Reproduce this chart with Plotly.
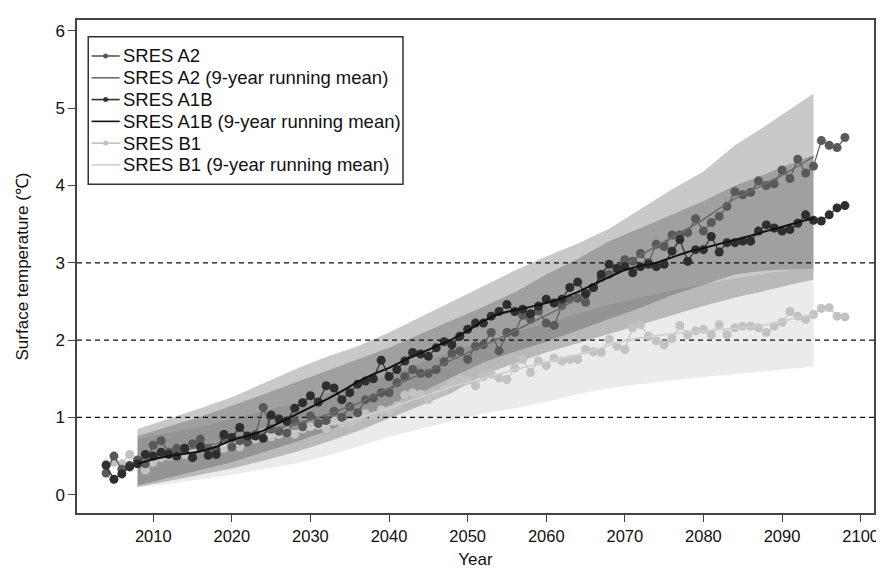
import plotly.graph_objects as go

# ---------------- data ----------------
years = list(range(2004, 2099))

a2 = [0.28, 0.50, 0.33, 0.38, 0.45, 0.40, 0.64, 0.70, 0.55, 0.60,
      0.58, 0.66, 0.72, 0.60, 0.58, 0.75, 0.62, 0.70, 0.68, 0.78,
      1.13, 0.85, 0.82, 0.80, 0.95, 0.88, 1.02, 0.92, 0.96, 1.08,
      1.00, 1.14, 1.06, 1.23, 1.25, 1.32, 1.32, 1.45, 1.53, 1.62,
      1.57, 1.57, 1.62, 1.72, 1.83, 1.86, 1.75, 1.92, 1.94, 2.10,
      1.86, 2.10, 2.10, 2.32, 2.27, 2.38, 2.22, 2.19, 2.45, 2.53,
      2.54, 2.49, 2.68, 2.81, 2.85, 2.91, 3.04, 3.02, 3.12, 3.00,
      3.24, 3.21, 3.36, 3.36, 3.39, 3.57, 3.41, 3.52, 3.60, 3.73,
      3.92, 3.88, 3.91, 4.06, 4.00, 4.02, 4.20, 4.09, 4.34, 4.16,
      4.25, 4.58, 4.52, 4.49, 4.62]

a1b = [0.38, 0.20, 0.27, 0.36, 0.40, 0.52, 0.50, 0.55, 0.52, 0.50,
       0.60, 0.48, 0.62, 0.51, 0.52, 0.78, 0.74, 0.87, 0.76, 0.76,
       0.73, 1.03, 0.98, 0.95, 1.12, 1.19, 1.28, 1.20, 1.41, 1.38,
       1.23, 1.32, 1.43, 1.47, 1.50, 1.74, 1.53, 1.62, 1.73, 1.84,
       1.82, 1.79, 1.90, 1.98, 1.94, 2.05, 2.14, 2.22, 2.22, 2.31,
       2.37, 2.46, 2.37, 2.40, 2.34, 2.44, 2.53, 2.48, 2.53, 2.68,
       2.75, 2.60, 2.68, 2.85, 2.98, 2.93, 2.95, 2.87, 2.95, 2.98,
       2.95, 2.98, 3.15, 3.30, 3.02, 3.17, 3.17, 3.34, 3.14, 3.26,
       3.26, 3.28, 3.28, 3.41, 3.49, 3.45, 3.41, 3.43, 3.51, 3.62,
       3.55, 3.54, 3.62, 3.71, 3.74]

b1 = [0.40, 0.42, 0.40, 0.52, 0.40, 0.32, 0.42, 0.48, 0.50, 0.55,
      0.52, 0.58, 0.60, 0.55, 0.62, 0.60, 0.66, 0.62, 0.70, 0.72,
      0.80, 0.75, 0.78, 0.82, 0.78, 0.85, 0.88, 0.90, 0.86, 0.95,
      0.92, 0.93, 0.98, 1.05, 1.02, 1.10, 1.08, 1.15, 1.29, 1.32,
      1.30, 1.23, 1.30, 1.36, 1.45, 1.49, 1.48, 1.41, 1.53, 1.56,
      1.51, 1.49, 1.64, 1.75, 1.58, 1.73, 1.67, 1.77, 1.73, 1.75,
      1.75, 1.88, 1.85, 1.84, 2.01, 1.92, 1.88, 2.16, 2.20, 2.05,
      1.99, 1.94, 2.02, 2.19, 2.07, 2.12, 2.14, 2.07, 2.20, 2.07,
      2.16, 2.18, 2.18, 2.16, 2.10, 2.18, 2.23, 2.37, 2.31, 2.27,
      2.33, 2.41, 2.42, 2.31, 2.30]

mean_years = list(range(2008, 2095, 2))
a2_mean = [0.42, 0.48, 0.53, 0.58, 0.62, 0.66, 0.70, 0.75, 0.80, 0.86,
           0.91, 0.97, 1.03, 1.10, 1.18, 1.28, 1.38, 1.47, 1.56, 1.65,
           1.74, 1.83, 1.93, 2.02, 2.12, 2.22, 2.31, 2.42, 2.55, 2.70,
           2.84, 2.98, 3.10, 3.22, 3.33, 3.44, 3.56, 3.70, 3.83, 3.93,
           4.03, 4.13, 4.25, 4.37]
a1b_mean = [0.40, 0.46, 0.50, 0.53, 0.56, 0.62, 0.71, 0.76, 0.83, 0.93,
            1.03, 1.12, 1.23, 1.34, 1.46, 1.56, 1.64, 1.74, 1.83, 1.93,
            2.01, 2.12, 2.25, 2.34, 2.39, 2.43, 2.48, 2.54, 2.62, 2.72,
            2.82, 2.91, 2.96, 3.00, 3.07, 3.14, 3.19, 3.24, 3.29, 3.35,
            3.41, 3.47, 3.53, 3.58]
b1_mean = [0.42, 0.46, 0.50, 0.54, 0.58, 0.61, 0.65, 0.70, 0.74, 0.78,
           0.82, 0.86, 0.90, 0.94, 0.99, 1.05, 1.12, 1.19, 1.26, 1.33,
           1.40, 1.45, 1.50, 1.56, 1.62, 1.67, 1.71, 1.76, 1.81, 1.87,
           1.93, 1.99, 2.03, 2.06, 2.08, 2.10, 2.12, 2.14, 2.15, 2.17,
           2.20, 2.24, 2.29, 2.33]

band_years = [2008, 2012, 2016, 2020, 2024, 2028, 2032, 2036, 2040, 2044,
              2048, 2052, 2056, 2060, 2064, 2068, 2072, 2076, 2080, 2084,
              2088, 2092, 2094]
a2_upper = [0.85, 0.98, 1.12, 1.26, 1.44, 1.62, 1.78, 1.92, 2.10, 2.30,
            2.50, 2.70, 2.90, 3.08, 3.25, 3.44, 3.70, 3.95, 4.18, 4.52,
            4.78, 5.05, 5.19]
a2_lower = [0.10, 0.18, 0.26, 0.34, 0.44, 0.55, 0.68, 0.82, 0.98, 1.15,
            1.32, 1.55, 1.70, 1.84, 1.96, 2.08, 2.20, 2.32, 2.44, 2.55,
            2.64, 2.74, 2.78]
a1b_upper = [0.76, 0.88, 1.01, 1.15, 1.30, 1.45, 1.60, 1.75, 1.90, 2.08,
             2.25, 2.43, 2.62, 2.85, 3.05, 3.28, 3.45, 3.62, 3.80, 4.00,
             4.15, 4.32, 4.39]
a1b_lower = [0.12, 0.22, 0.32, 0.42, 0.55, 0.68, 0.82, 0.98, 1.15, 1.32,
             1.52, 1.71, 1.85, 1.98, 2.12, 2.27, 2.42, 2.58, 2.72, 2.85,
             2.90, 2.92, 2.93]
b1_upper = [0.72, 0.80, 0.88, 0.98, 1.08, 1.18, 1.30, 1.42, 1.55, 1.70,
            1.85, 1.98, 2.10, 2.22, 2.35, 2.46, 2.55, 2.64, 2.72, 2.80,
            2.86, 2.92, 2.95]
b1_lower = [0.10, 0.14, 0.20, 0.26, 0.33, 0.40, 0.50, 0.62, 0.75, 0.85,
            0.95, 1.05, 1.12, 1.20, 1.30, 1.38, 1.43, 1.48, 1.52, 1.56,
            1.60, 1.64, 1.66]

ref_lines = [1, 2, 3]
x_ticks = [2010, 2020, 2030, 2040, 2050, 2060, 2070, 2080, 2090, 2100]
y_ticks = [0, 1, 2, 3, 4, 5, 6]

legend_labels = ["SRES A2", "SRES A2 (9-year running mean)",
                 "SRES A1B", "SRES A1B (9-year running mean)",
                 "SRES B1", "SRES B1 (9-year running mean)"]

# ---------------- styles ----------------
FONT = "Liberation Sans, Arial, Helvetica, sans-serif"
C_A2, C_A2M = "#595959", "#6a6a6a"
C_A1B, C_A1BM = "#2e2e2e", "#111111"
C_B1, C_B1M = "#c2c2c2", "#cfcfcf"
legend_colors = [C_A2, C_A2M, C_A1B, C_A1BM, C_B1, C_B1M]
legend_marker = [True, False, True, False, True, False]

fig = go.Figure()


def band(up, lo, color):
    fig.add_trace(go.Scatter(
        x=band_years + band_years[::-1], y=up + lo[::-1],
        fill="toself", fillcolor=color, mode="lines",
        line=dict(width=0), hoverinfo="skip", showlegend=False))


band(b1_upper, b1_lower, "rgba(0,0,0,0.08)")
band(a2_upper, a2_lower, "rgba(0,0,0,0.21)")
band(a1b_upper, a1b_lower, "rgba(0,0,0,0.20)")


def annual(y, color, name):
    fig.add_trace(go.Scatter(
        x=years, y=y, mode="lines+markers", name=name,
        line=dict(color=color, width=1.2),
        marker=dict(color=color, size=9), showlegend=False))


def mean(y, color, name, width):
    fig.add_trace(go.Scatter(
        x=mean_years, y=y, mode="lines", name=name,
        line=dict(color=color, width=width), showlegend=False))


annual(b1, C_B1, legend_labels[4])
mean(b1_mean, C_B1M, legend_labels[5], 1.6)
annual(a2, C_A2, legend_labels[0])
mean(a2_mean, C_A2M, legend_labels[1], 1.6)
annual(a1b, C_A1B, legend_labels[2])
mean(a1b_mean, C_A1BM, legend_labels[3], 2.0)

for v in ref_lines:
    fig.add_shape(type="line", xref="paper", x0=0, x1=1, yref="y", y0=v, y1=v,
                  line=dict(color="#111111", width=1.3, dash="5px,4px"),
                  layer="below")

# ---- legend box (drawn as layout items to get the compact R-style spacing) ----
LX0, LX1, LY0, LY1 = 0.0141, 0.409, 0.667, 0.966
SEG0, SEG1, TXT = 0.0183, 0.0536, 0.0557
ROW_TOP, ROW_STEP = 0.927, 0.0442

fig.add_shape(type="rect", xref="paper", yref="paper", x0=LX0, x1=LX1, y0=LY0, y1=LY1,
              line=dict(color="#333333", width=1.5), fillcolor="white", layer="above")
for i, (lab, col, mk) in enumerate(zip(legend_labels, legend_colors, legend_marker)):
    ry = ROW_TOP - i * ROW_STEP
    fig.add_shape(type="line", xref="paper", yref="paper", x0=SEG0, x1=SEG1, y0=ry, y1=ry,
                  line=dict(color=col, width=1.6), layer="above")
    if mk:
        fig.add_shape(type="circle", xref="paper", yref="paper",
                      xsizemode="pixel", ysizemode="pixel",
                      xanchor=(SEG0 + SEG1) / 2, yanchor=ry,
                      x0=-2.3, x1=2.3, y0=-2.3, y1=2.3,
                      fillcolor=col, line=dict(color=col, width=0.5), layer="above")
    fig.add_annotation(xref="paper", yref="paper", x=TXT, y=ry, text=lab,
                       showarrow=False, xanchor="left", yanchor="middle",
                       font=dict(family=FONT, size=18.5, color="#111111"))

axis_common = dict(showline=True, mirror=True, linecolor="#444444", linewidth=1.5,
                   ticks="outside", ticklen=7, tickwidth=1.3, tickcolor="#444444",
                   showgrid=False, zeroline=False)

# the page body has an 8px margin, so the figure is shrunk and the margins shifted
fig.update_layout(
    width=876, height=563,
    margin=dict(l=69, r=5, t=12, b=57),
    plot_bgcolor="white", paper_bgcolor="white",
    font=dict(family=FONT, color="#111111"),
    xaxis=dict(range=[2000.3, 2101.7], tickvals=x_ticks,
               tickfont=dict(family=FONT, size=16.5, color="#111111"),
               title=dict(text="Year", font=dict(size=17), standoff=10),
               **axis_common),
    yaxis=dict(range=[-0.236, 6.14], tickvals=y_ticks,
               tickfont=dict(family=FONT, size=17, color="#111111"),
               title=dict(text="Surface temperature (℃)", font=dict(size=17), standoff=22),
               **axis_common),
    showlegend=False,
)

fig.write_html("out.html")
